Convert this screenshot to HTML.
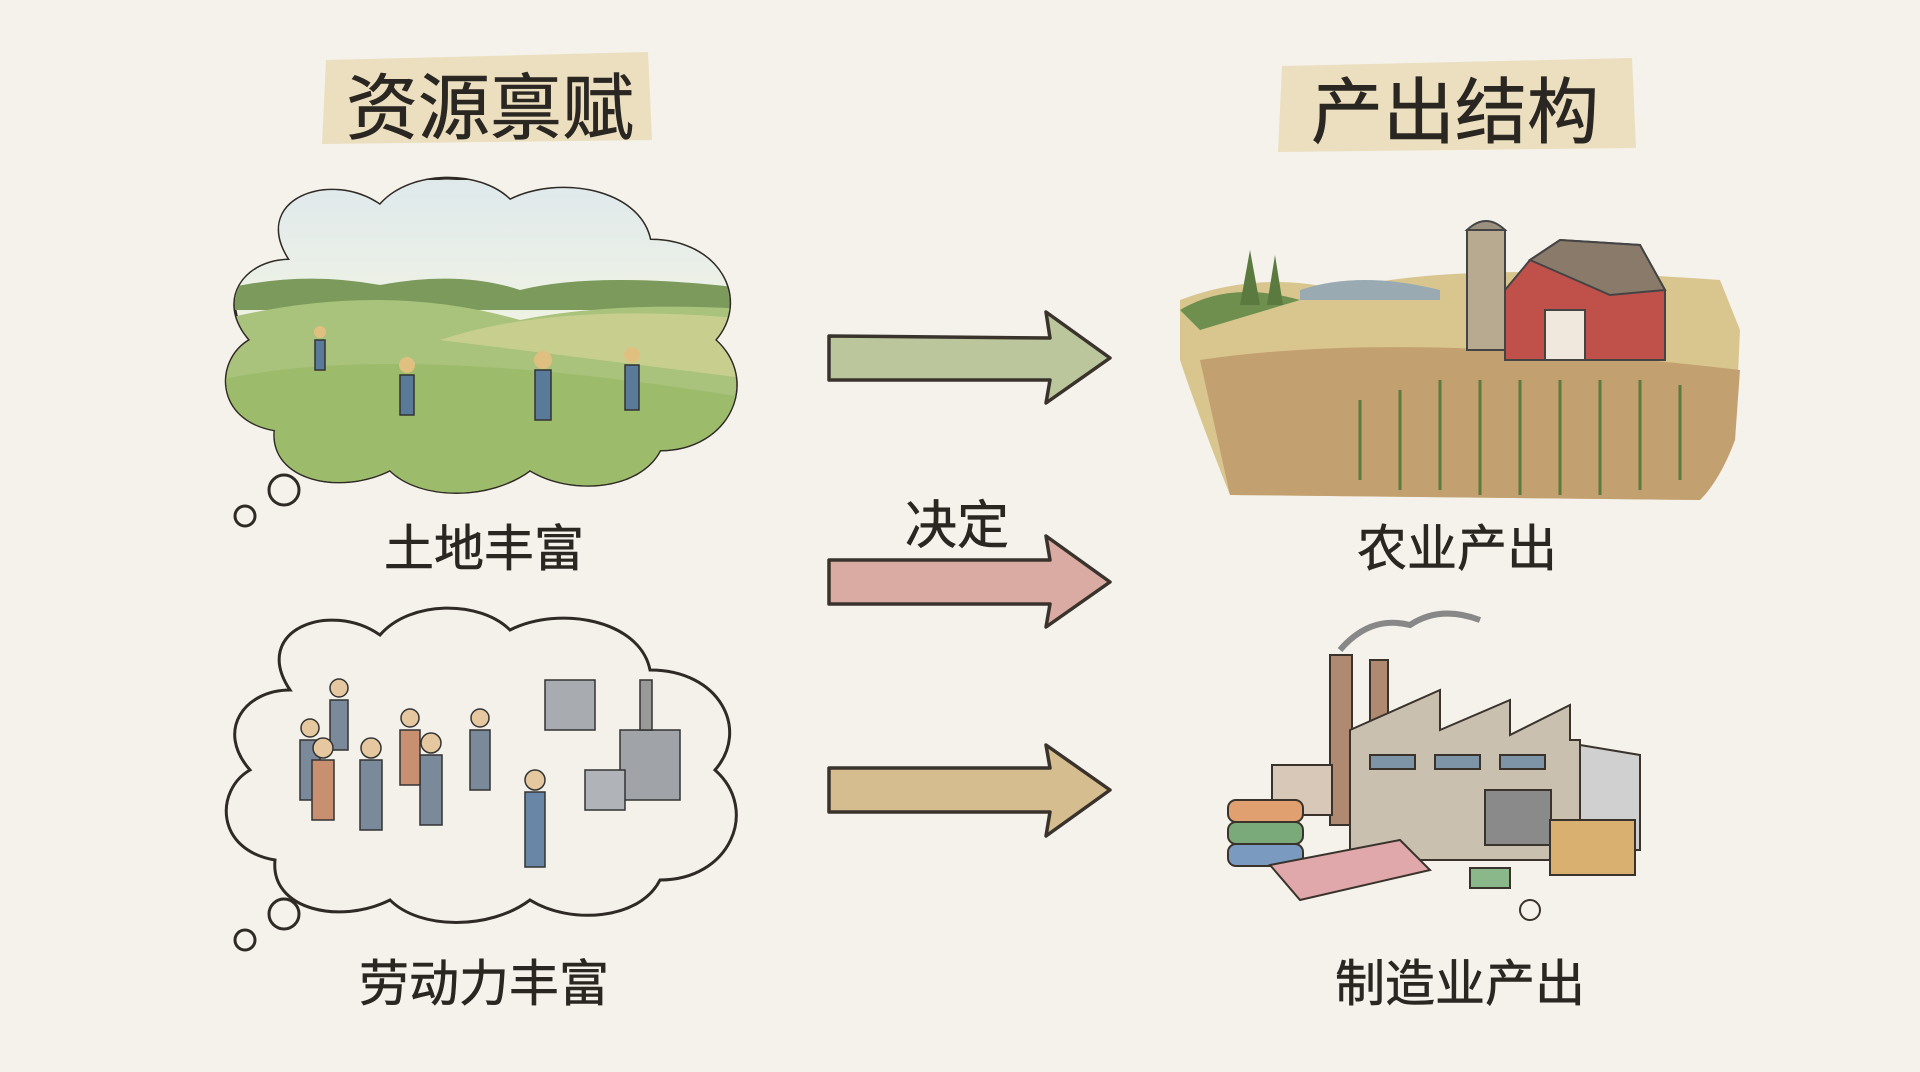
<!DOCTYPE html>
<html><head><meta charset="utf-8"><style>
html,body{margin:0;padding:0;background:#f4f2ea;}
body{width:1920px;height:1072px;overflow:hidden;position:relative;font-family:"Liberation Sans","Noto Sans CJK SC",sans-serif;color:#2a2622;}
.t{position:absolute;white-space:nowrap;transform:translate(-50%,-50%);-webkit-text-stroke:0.6px #2a2622;}
</style></head><body>
<svg width="1920" height="1072" style="position:absolute;left:0;top:0">
<defs>
<linearGradient id="sky" x1="0" y1="0" x2="0" y2="1"><stop offset="0" stop-color="#dfe9ec"/><stop offset="1" stop-color="#eef2e6"/></linearGradient>
</defs>
<path d="M326 60 L648 52 L652 140 L322 144 Z" fill="#e8d9b4" opacity="0.8"/>
<path d="M1282 66 L1632 58 L1636 148 L1278 152 Z" fill="#e8d9b4" opacity="0.8"/>

<path d="M290 260 C250 200 330 170 380 205 C410 170 480 170 510 200 C560 175 640 190 650 240 C720 240 750 300 715 340 C760 380 730 450 660 450 C640 490 570 495 530 470 C490 500 420 500 390 470 C340 495 270 480 275 430 C215 420 215 360 250 340 C215 300 245 260 290 260 Z" fill="#eef2e4" stroke="#2f2a25" stroke-width="3"/>
<clipPath id="c1"><path d="M290 260 C250 200 330 170 380 205 C410 170 480 170 510 200 C560 175 640 190 650 240 C720 240 750 300 715 340 C760 380 730 450 660 450 C640 490 570 495 530 470 C490 500 420 500 390 470 C340 495 270 480 275 430 C215 420 215 360 250 340 C215 300 245 260 290 260 Z"/></clipPath>
<g clip-path="url(#c1)">
<rect x="220" y="180" width="540" height="120" fill="url(#sky)"/>
<path d="M220 290 Q300 270 380 285 Q460 270 520 290 Q600 270 760 290 L760 310 L220 310Z" fill="#7b9a5b"/>
<path d="M220 320 Q380 280 520 320 Q620 300 760 310 L760 500 L220 500Z" fill="#a9c27c"/>
<path d="M440 340 Q560 300 760 320 L760 380 Q600 360 440 340Z" fill="#c8cf8e"/>
<path d="M220 380 Q400 340 760 400 L760 500 L220 500Z" fill="#9cbc6c"/>
<g fill="#5a7a9a" stroke="#333" stroke-width="1.5">
<rect x="315" y="340" width="10" height="30"/><rect x="400" y="375" width="14" height="40"/><rect x="535" y="370" width="16" height="50"/><rect x="625" y="365" width="14" height="45"/></g>
<g fill="#e0c080"><circle cx="320" cy="332" r="6"/><circle cx="407" cy="365" r="8"/><circle cx="543" cy="360" r="9"/><circle cx="632" cy="355" r="8"/></g>
</g>
<circle cx="284" cy="490" r="15" fill="none" stroke="#2f2a25" stroke-width="3"/>
<circle cx="245" cy="516" r="10" fill="none" stroke="#2f2a25" stroke-width="3"/>

<path d="M290 690 C250 630 330 600 380 635 C410 600 480 600 510 630 C560 605 640 620 650 670 C720 670 750 730 715 770 C760 810 730 880 660 880 C640 920 570 925 530 900 C490 930 420 930 390 900 C340 925 270 910 275 860 C215 850 215 790 250 770 C215 730 245 690 290 690 Z" fill="#f3f1ea" stroke="#2f2a25" stroke-width="3"/>
<g stroke="#333" stroke-width="1.5">
<g fill="#7a8a9a"><rect x="300" y="740" width="20" height="60"/><rect x="360" y="760" width="22" height="70"/><rect x="420" y="755" width="22" height="70"/><rect x="470" y="730" width="20" height="60"/><rect x="330" y="700" width="18" height="50"/></g>
<g fill="#c89070"><rect x="312" y="760" width="22" height="60"/><rect x="400" y="730" width="20" height="55"/></g>
<g fill="#e6c8a0"><circle cx="310" cy="728" r="9"/><circle cx="371" cy="748" r="10"/><circle cx="431" cy="743" r="10"/><circle cx="480" cy="718" r="9"/><circle cx="339" cy="688" r="9"/><circle cx="323" cy="748" r="10"/><circle cx="410" cy="718" r="9"/><circle cx="535" cy="780" r="10"/></g>
<rect x="525" y="792" width="20" height="75" fill="#6a86a6"/>
<rect x="545" y="680" width="50" height="50" fill="#a8acb0"/>
<rect x="620" y="730" width="60" height="70" fill="#a0a4a8"/>
<rect x="585" y="770" width="40" height="40" fill="#b0b4b8"/>
<rect x="640" y="680" width="12" height="50" fill="#999"/>
</g>
<circle cx="284" cy="914" r="15" fill="none" stroke="#2f2a25" stroke-width="3"/>
<circle cx="245" cy="940" r="10" fill="none" stroke="#2f2a25" stroke-width="3"/>

<g stroke="#3a332c" stroke-width="3.5" stroke-linejoin="round">
<path d="M829 336 L1050 338 L1046 312 L1110 358 L1046 403 L1050 380 L829 380 Z" fill="#bcc69c"/>
<path d="M829 560 L1050 560 L1046 536 L1110 582 L1046 627 L1050 604 L829 604 Z" fill="#d9aba2"/>
<path d="M829 768 L1050 768 L1046 745 L1110 790 L1046 836 L1050 812 L829 812 Z" fill="#d6bd90"/>
</g>

<g>
<path d="M1180 300 Q1260 270 1340 290 Q1450 260 1720 280 L1740 330 L1735 440 Q1720 480 1700 500 L1230 495 Q1200 420 1180 360 Z" fill="#d9c68e"/>
<path d="M1180 310 Q1230 280 1300 300 L1200 330Z" fill="#6f8f4f"/>
<path d="M1300 290 Q1360 270 1440 290 L1440 300 L1300 300Z" fill="#9aaab2"/>
<path d="M1200 360 Q1400 330 1740 370 L1735 440 Q1720 480 1700 500 L1230 495 Z" fill="#c3a070"/>
<g stroke="#5d7a3e" stroke-width="3">
<line x1="1360" y1="480" x2="1360" y2="400"/><line x1="1400" y1="490" x2="1400" y2="390"/><line x1="1440" y1="490" x2="1440" y2="380"/><line x1="1480" y1="495" x2="1480" y2="380"/><line x1="1520" y1="495" x2="1520" y2="380"/><line x1="1560" y1="495" x2="1560" y2="380"/><line x1="1600" y1="495" x2="1600" y2="380"/><line x1="1640" y1="490" x2="1640" y2="380"/><line x1="1680" y1="480" x2="1680" y2="385"/></g>
<rect x="1467" y="230" width="38" height="120" fill="#b8aa90" stroke="#444" stroke-width="2"/>
<path d="M1467 230 Q1486 212 1505 230Z" fill="#9a9080" stroke="#444" stroke-width="2"/>
<path d="M1505 290 L1505 360 L1665 360 L1665 290 L1640 245 L1560 240 L1530 260 Z" fill="#c0504a" stroke="#444" stroke-width="2"/>
<path d="M1530 260 L1560 240 L1640 245 L1665 290 L1610 295 Z" fill="#8a7a6a" stroke="#444" stroke-width="2"/>
<rect x="1545" y="310" width="40" height="50" fill="#f0e8dc" stroke="#444" stroke-width="2"/>
<path d="M1250 250 l10 55 l-20 0Z M1275 255 l8 50 l-16 0Z" fill="#5a7a40"/>
</g>

<g stroke="#3a332c" stroke-width="2">
<path d="M1340 650 Q1370 615 1410 625 Q1440 605 1480 620" fill="none" stroke="#888" stroke-width="6"/>
<rect x="1330" y="655" width="22" height="170" fill="#b08a70"/>
<rect x="1370" y="660" width="18" height="150" fill="#b08a70"/>
<path d="M1350 730 L1440 690 L1440 730 L1510 700 L1510 735 L1570 705 L1570 740 L1580 740 L1580 860 L1350 860Z" fill="#c9c0b0"/>
<path d="M1580 745 L1640 755 L1640 850 L1580 850Z" fill="#d0d0d0"/>
<rect x="1485" y="790" width="66" height="55" fill="#8a8a8a"/>
<rect x="1370" y="755" width="45" height="14" fill="#7e95a8"/><rect x="1435" y="755" width="45" height="14" fill="#7e95a8"/><rect x="1500" y="755" width="45" height="14" fill="#7e95a8"/>
<rect x="1272" y="765" width="60" height="50" fill="#d8c8b8"/>
<rect x="1228" y="800" width="75" height="22" rx="8" fill="#e0a070"/>
<rect x="1228" y="822" width="75" height="22" rx="8" fill="#7aaa7a"/>
<rect x="1228" y="844" width="75" height="22" rx="8" fill="#7a9ac0"/>
<path d="M1270 865 L1400 840 L1430 870 L1300 900Z" fill="#e0a8aa"/>
<rect x="1550" y="820" width="85" height="55" fill="#d9b070"/>
<rect x="1470" y="868" width="40" height="20" fill="#8ab88a"/>
<circle cx="1530" cy="910" r="10" fill="none"/>
</g>
</svg>

<div class="t" style="left:490px;top:102px;font-size:72px;">资源禀赋</div>
<div class="t" style="left:1455px;top:106px;font-size:72px;">产出结构</div>
<div class="t" style="left:484px;top:545px;font-size:50px;">土地丰富</div>
<div class="t" style="left:484px;top:980px;font-size:50px;">劳动力丰富</div>
<div class="t" style="left:957px;top:521px;font-size:52px;">决定</div>
<div class="t" style="left:1457px;top:545px;font-size:50px;">农业产出</div>
<div class="t" style="left:1460px;top:980px;font-size:50px;">制造业产出</div>
</body></html>
